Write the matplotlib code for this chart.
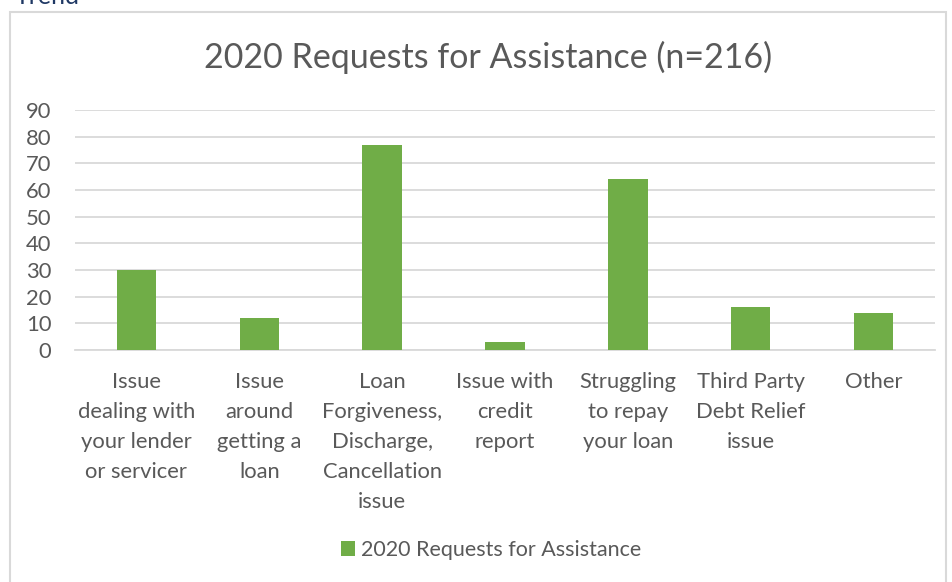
import matplotlib
matplotlib.use("Agg")
from matplotlib import pyplot as plt
from matplotlib.patches import Rectangle

# ============================== Data =============================== #
categories = [
    "Issue\ndealing with\nyour lender\nor servicer",
    "Issue\naround\ngetting a\nloan",
    "Loan\nForgiveness,\nDischarge,\nCancellation\nissue",
    "Issue with\ncredit\nreport",
    "Struggling\nto repay\nyour loan",
    "Third Party\nDebt Relief\nissue",
    "Other",
]
requests = [30, 12, 77, 3, 64, 16, 14]
series_name = "2020 Requests for Assistance"
title = "2020 Requests for Assistance (n=216)"
y_ticks = list(range(0, 100, 10))
# =================================================================== #

green = "#70AD47"
text_gray = "#595959"
grid_gray = "#D9D9D9"

plt.rcParams['font.family'] = ['Lato', 'DejaVu Sans']

fig = plt.figure(figsize=(9.52, 5.82), dpi=100)
W, H = 952, 582

# chart frame
fig.patches.append(Rectangle((10 / W, -0.05), 936 / W, 1.05 - 12 / H,
                             transform=fig.transFigure, fill=False,
                             edgecolor=grid_gray, linewidth=1.5))
# heading above the chart, mostly cut off by the crop
fig.text(15 / W, 1 - 4 / H, "Trend", color="#1F3864", fontsize=18,
         ha="left", va="baseline")

ax = fig.add_axes([75 / W, 1 - 350 / H, 860 / W, 240 / H])
x = range(len(categories))
ax.bar(x, requests, width=0.32, color=green, zorder=3, label=series_name)

ax.set_xlim(-0.5, len(categories) - 0.5)
ax.set_ylim(0, 90)
ax.set_yticks(y_ticks)
ax.set_xticks(list(x))
ax.set_xticklabels(categories, linespacing=1.62)
ax.yaxis.grid(True, color=grid_gray, linewidth=1.3, zorder=0)
for s in ax.spines.values():
    s.set_visible(False)
ax.spines['bottom'].set_visible(True)
ax.spines['bottom'].set_color(grid_gray)
ax.spines['bottom'].set_linewidth(1.3)
ax.tick_params(axis='both', length=0, labelsize=15.8, labelcolor=text_gray)
ax.tick_params(axis='x', pad=16)
ax.tick_params(axis='y', pad=17)

fig.text(488 / W, 1 - 57 / H, title, fontsize=24.5, color=text_gray,
         ha="center", va="center")

leg = fig.legend(loc="center", bbox_to_anchor=(491 / W, 1 - 550 / H),
                 frameon=False, fontsize=15.5, handlelength=0.65,
                 handleheight=0.65, handletextpad=0.25)
for t in leg.get_texts():
    t.set_color(text_gray)

plt.savefig("out.png", dpi=100)
